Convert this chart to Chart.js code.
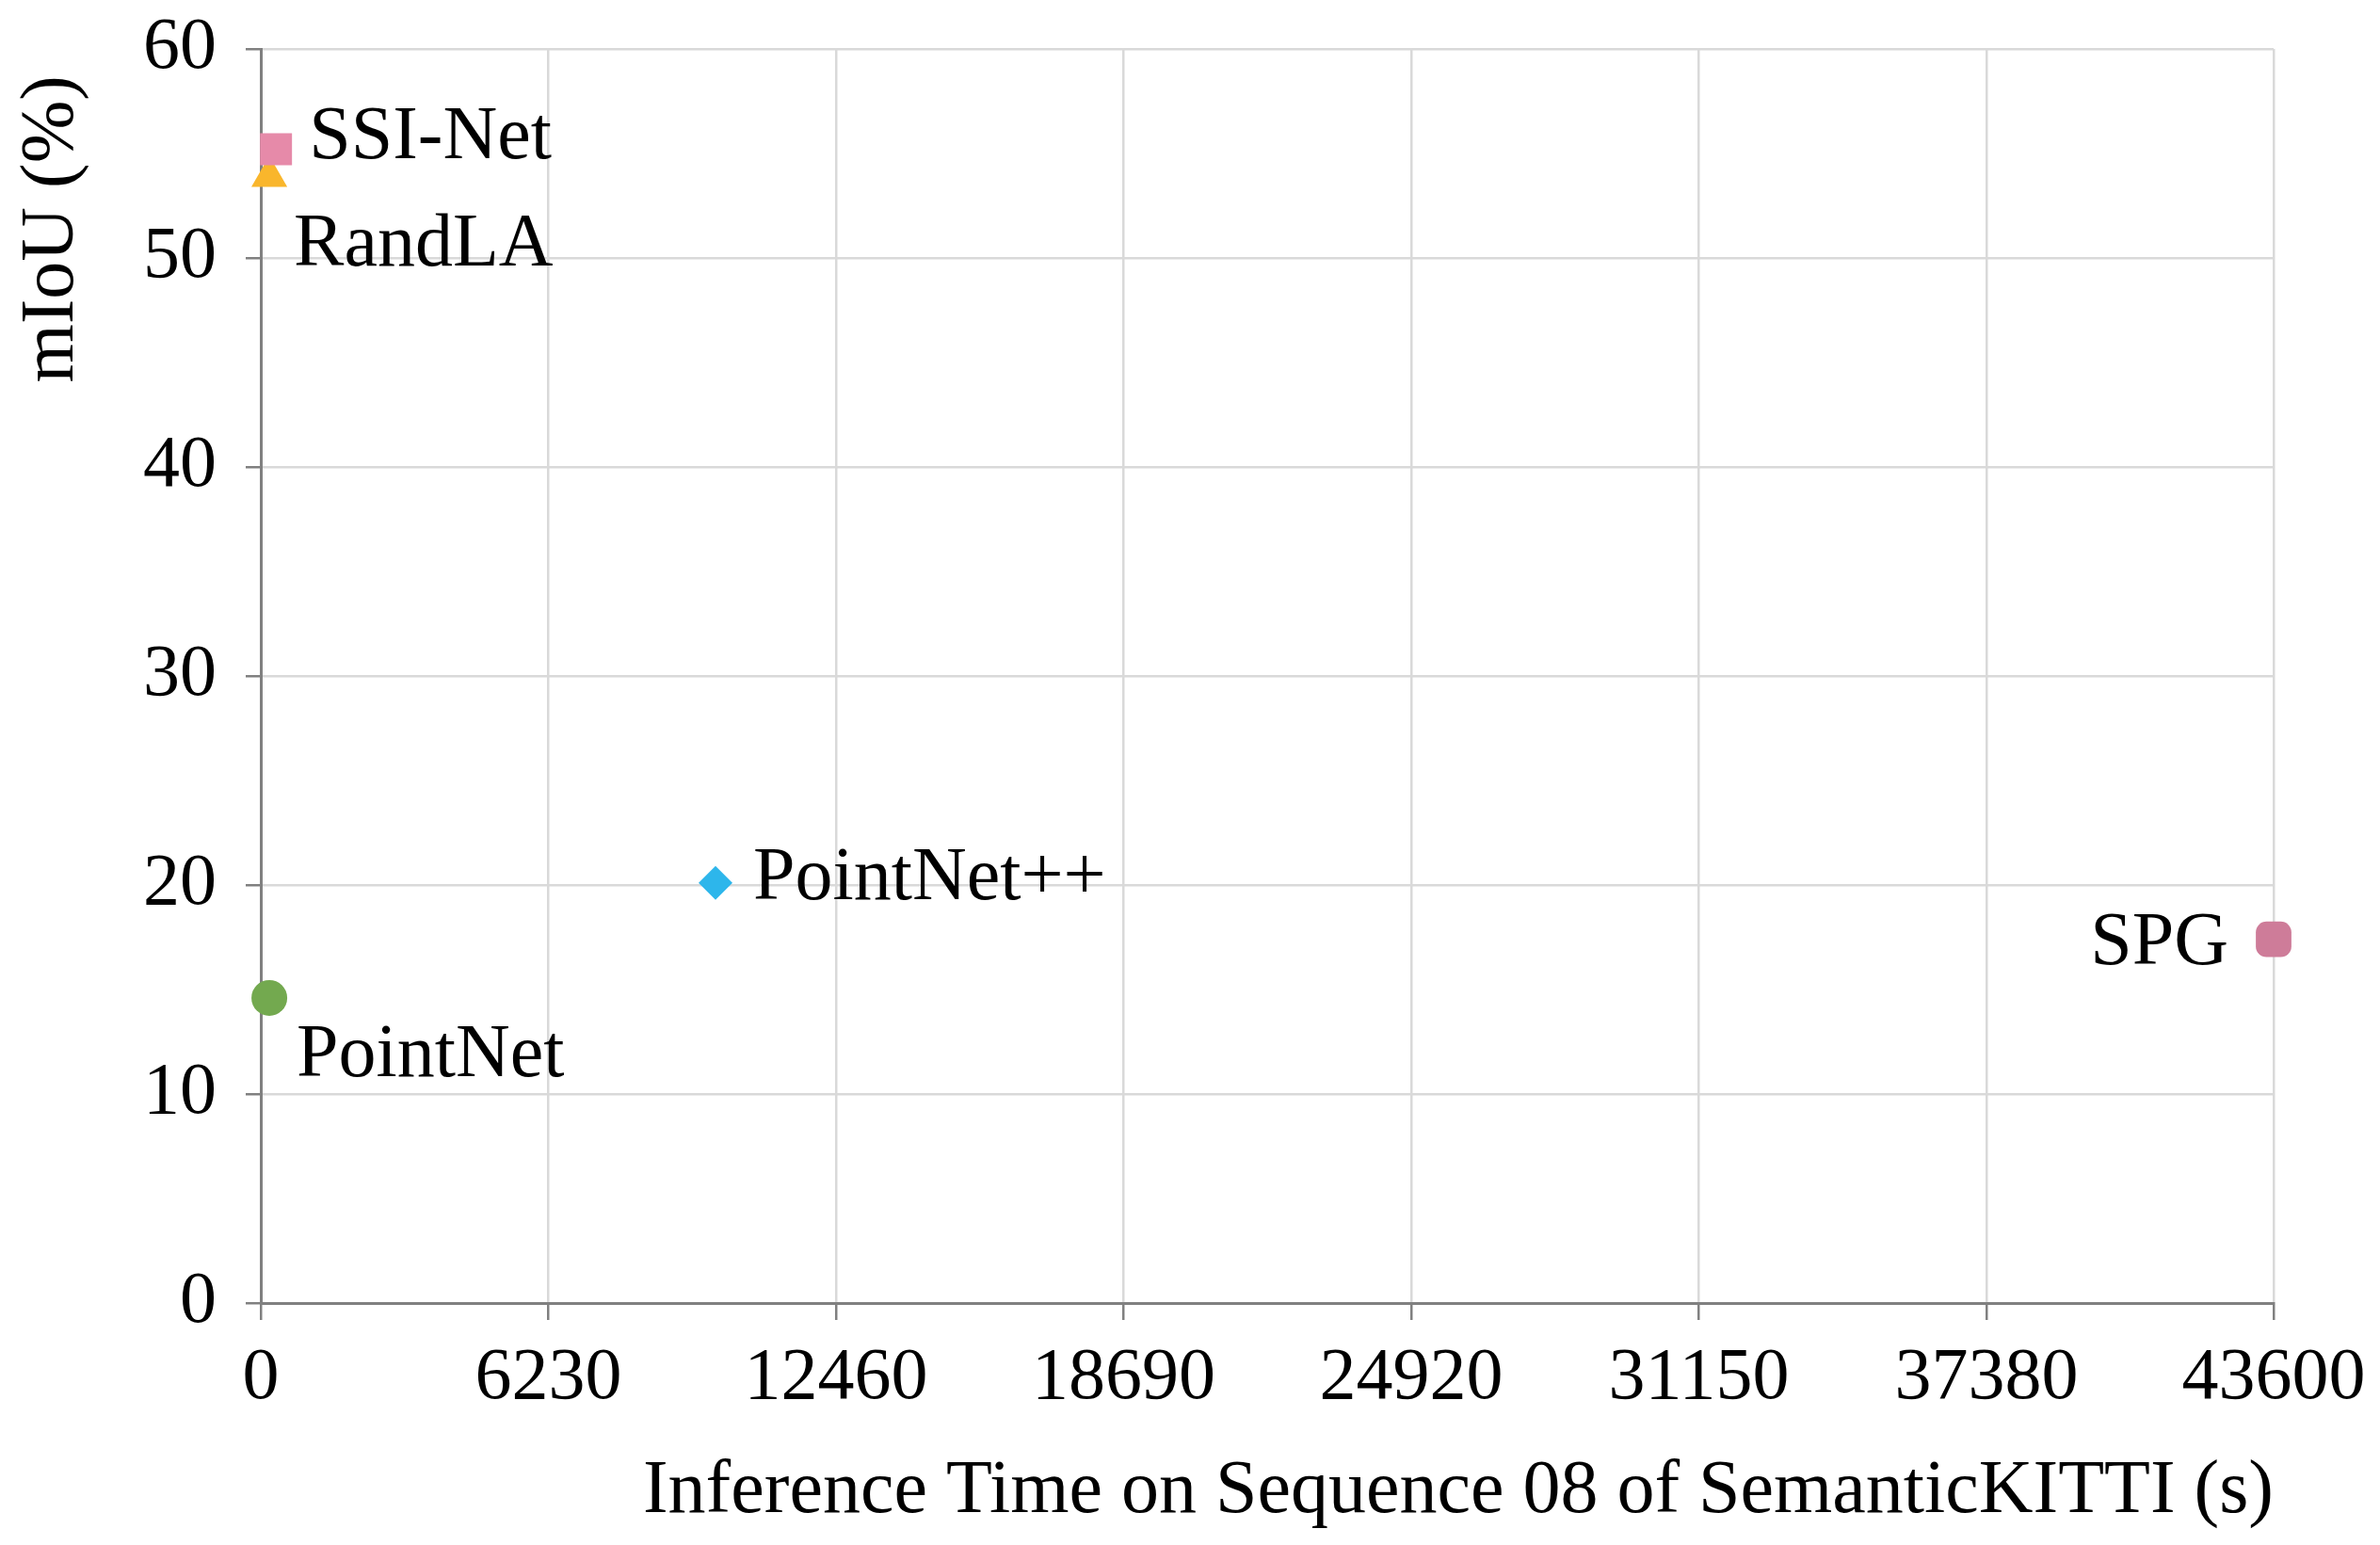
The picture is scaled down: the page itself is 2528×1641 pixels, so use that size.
<!DOCTYPE html>
<html>
<head>
<meta charset="utf-8">
<script src="https://cdn.jsdelivr.net/npm/chart.js@4"></script>
<style>
  html, body { margin: 0; padding: 0; background: #fff; }
  #wrap { width: 2528px; height: 1641px; position: relative; }
</style>
</head>
<body>
<div id="wrap"><canvas id="chart"></canvas></div>
<script>
'use strict';

// model names, inference time (s) and mIoU (%)
const models = ['SSI-Net', 'RandLA', 'PointNet', 'PointNet++', 'SPG'];
const inferTimes = [330, 185, 185, 9850, 43600];
const mious = [55.2, 53.9, 14.6, 20.1, 17.4];

const xTickValues = [0, 6230, 12460, 18690, 24920, 31150, 37380, 43600];
const yTickValues = [0, 10, 20, 30, 40, 50, 60];

// marker look for each model
const colors = ['#E68AA9', '#F9B62C', '#73A94F', '#2DB6EB', '#CE7C99'];
const shapes = ['rect', 'triangle', 'circle', 'rectRot', 'rectRounded'];
const radii = [24, 22, 19, 18, 22];
// label offsets from the marker, and text alignment
const labelOffsets = [[35, 9], [26, 95], [29, 83], [40, 17], [-48, 26]];
const labelAligns = ['left', 'left', 'left', 'left', 'right'];

const serif = 'Liberation Serif';
Chart.defaults.font.family = serif;
Chart.defaults.color = '#000';

const pointLabels = {
  id: 'pointLabels',
  afterDatasetsDraw(chart) {
    const ctx = chart.ctx;
    ctx.save();
    ctx.fillStyle = '#000';
    ctx.font = '80px "' + serif + '"';
    ctx.textBaseline = 'alphabetic';
    chart.data.datasets.forEach((ds, i) => {
      const el = chart.getDatasetMeta(i).data[0];
      ctx.textAlign = labelAligns[i];
      ctx.fillText(models[i], el.x + labelOffsets[i][0], el.y + labelOffsets[i][1]);
    });
    // y axis title sits at the top of the axis
    ctx.translate(77, 80);
    ctx.rotate(-Math.PI / 2);
    ctx.textAlign = 'right';
    ctx.fillText('mIoU (%)', 0, 0);
    ctx.restore();
  }
};

function renderChart() {
  const canvasElem = document.getElementById('chart');

  const chartData = {
    datasets: models.map((name, i) => ({
      label: name,
      data: [{ x: inferTimes[i], y: mious[i] }],
      backgroundColor: colors[i],
      borderColor: colors[i],
      borderWidth: 0,
      pointStyle: shapes[i],
      pointRadius: radii[i],
      pointHoverRadius: radii[i],
      clip: false
    }))
  };

  const chartConfig = {
    type: 'scatter',
    data: chartData,
    options: {
      responsive: true,
      maintainAspectRatio: false,
      animation: false,
      layout: { padding: { left: 0, top: 52, right: 113, bottom: 0 } },
      plugins: {
        legend: { display: false },
        tooltip: { enabled: false }
      },
      scales: {
        x: {
          type: 'linear',
          min: 0,
          max: 43600,
          afterBuildTicks: scale => { scale.ticks = xTickValues.map(v => ({ value: v })); },
          afterFit: scale => {
            scale.height = 257;
            scale.paddingLeft = 0;
            scale.paddingRight = 0;
          },
          grid: { color: '#D9D9D9', lineWidth: 2.5, tickColor: '#808080', tickLength: 18, tickWidth: 2.5 },
          border: { color: '#808080', width: 3 },
          ticks: {
            font: { size: 78 },
            padding: 16,
            maxRotation: 0,
            autoSkip: false,
            callback: v => String(v)
          },
          title: {
            display: true,
            text: 'Inference Time on Sequence 08 of SemanticKITTI (s)',
            align: 'end',
            font: { size: 80 },
            padding: { top: 0, bottom: 8 }
          }
        },
        y: {
          type: 'linear',
          min: 0,
          max: 60,
          afterBuildTicks: scale => { scale.ticks = yTickValues.map(v => ({ value: v })); },
          afterFit: scale => {
            scale.width = 277;
            scale.paddingTop = 0;
            scale.paddingBottom = 0;
          },
          grid: { color: '#D9D9D9', lineWidth: 2.5, tickColor: '#808080', tickLength: 16, tickWidth: 2.5 },
          border: { color: '#808080', width: 3 },
          ticks: {
            font: { size: 78 },
            padding: 31,
            callback: v => String(v)
          }
        }
      }
    },
    plugins: [pointLabels]
  };

  new Chart(canvasElem.getContext('2d'), chartConfig);
}

renderChart();
</script>
</body>
</html>
